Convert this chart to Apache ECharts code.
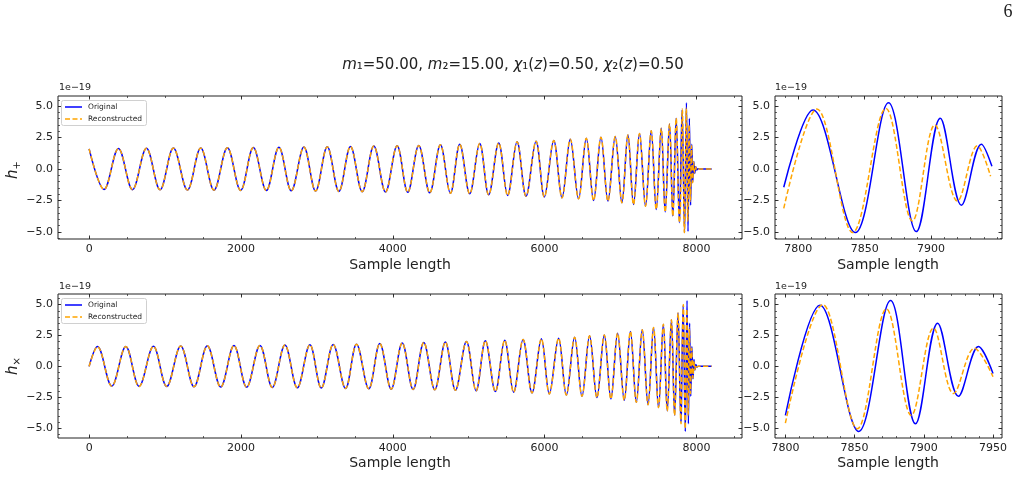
<!DOCTYPE html>
<html>
<head>
<meta charset="utf-8">
<script src="https://cdn.jsdelivr.net/npm/echarts@6/dist/echarts.min.js"></script>
<style>
  html, body { margin: 0; background: #fff; }
  #chart { width: 1021px; height: 478px; }
</style>
</head>
<body>
<div id="chart"></div>
<script>
// values are in units of 1e-19 (extrema of each cycle)
const hpInspiral = [[0,1.6],[197,-1.62],[386,1.63],[571,-1.64],[755,1.65],[934,-1.65],[1110,1.66],[1295,-1.67],[1470,1.67],[1645,-1.68],[1821,1.69],[1996,-1.7],[2163,1.7],[2334,-1.71],[2500,1.72],[2663,-1.73],[2829,1.74],[2983,-1.75],[3137,1.76],[3290,-1.78],[3443,1.79],[3597,-1.8],[3750,1.82],[3904,-1.82],[4057,1.84],[4197,-1.85],[4342,1.87],[4487,-1.89],[4627,1.92],[4759,-1.93],[4882,1.97],[5013,-1.97],[5145,2.03],[5263,-2.05],[5395,2.06],[5513,-2.1],[5637,2.16],[5755,-2.16],[5887,2.21],[5996,-2.22],[6120,2.26],[6229,-2.29],[6338,2.37],[6447,-2.37],[6549,2.45],[6645,-2.5],[6742,2.53],[6834,-2.55],[6930,2.58],[7018,-2.68],[7097,2.71],[7171,-2.82],[7250,2.82],[7329,-2.95],[7404,3.03],[7470,-3.21],[7536,3.24],[7588,-3.42],[7645,3.58],[7689,-3.74],[7733,4.03],[7776,-4.26]];
const hpZoomOrig = [[7789,-1.45],[7811,4.68],[7843,-5.05],[7868,5.26],[7889,-4.97],[7907,4.03],[7923,-2.87],[7938,1.97],[7946,0.21]];
const hpZoomRecon = [[7789,-3.13],[7814,4.76],[7841,-5.05],[7866,4.82],[7886,-4.13],[7903,3.5],[7920,-2.55],[7935,1.84],[7945,-0.58]];
const hpTailOrig = [[7952,-1.0],[7965,0.6],[7978,-0.35],[7991,0.18],[8004,-0.08],[8020,0.02],[8045,0],[8200,0]];
const hpTailRecon = [[7950,-1.1],[7963,0.55],[7976,-0.3],[7989,0.15],[8003,-0.06],[8020,0.01],[8045,0],[8200,0]];

const hcInspiral = [[0,0],[110,1.6],[298,-1.6],[483,1.6],[658,-1.62],[847,1.62],[1022,-1.63],[1206,1.64],[1382,-1.65],[1557,1.66],[1733,-1.67],[1908,1.68],[2075,-1.69],[2250,1.7],[2413,-1.71],[2579,1.73],[2742,-1.74],[2908,1.75],[3058,-1.76],[3215,1.78],[3378,-1.79],[3522,1.8],[3684,-1.82],[3829,1.86],[3979,-1.85],[4124,1.9],[4268,-1.87],[4408,1.94],[4553,-1.9],[4693,1.97],[4825,-1.93],[4970,2.02],[5097,-1.98],[5220,2.07],[5351,-2.04],[5474,2.12],[5592,-2.09],[5716,2.17],[5834,-2.15],[5957,2.23],[6062,-2.23],[6184,2.28],[6286,-2.31],[6395,2.36],[6492,-2.42],[6592,2.47],[6689,-2.53],[6786,2.55],[6873,-2.64],[6961,2.69],[7049,-2.74],[7130,2.83],[7208,-2.91],[7286,2.96],[7362,-3.1],[7435,3.15],[7500,-3.34],[7564,3.42],[7615,-3.61],[7670,3.78],[7712,-3.97],[7757,4.32]];
const hcBridgeOrig = [[7795,-4.5]];
const hcBridgeRecon = [[7797,-4.65]];
const hcZoomOrig = [[7800,-3.97],[7825,4.95],[7853,-5.27],[7876,5.33],[7894,-4.65],[7910,3.5],[7925,-2.42],[7939.5,1.6],[7950,-0.57]];
const hcZoomRecon = [[7800,-4.6],[7827,5.0],[7852,-5.05],[7873,4.65],[7891,-3.97],[7907,3.1],[7921.5,-2.2],[7936.6,1.47],[7950,-0.84]];
const hcTailOrig = [[7955,-1.0],[7967,0.55],[7980,-0.3],[7993,0.15],[8006,-0.06],[8022,0.01],[8045,0],[8200,0]];
const hcTailRecon = [[7953,-0.95],[7965,0.5],[7978,-0.28],[7991,0.13],[8005,-0.05],[8022,0],[8045,0],[8200,0]];

const fullTicks = [0, 2000, 4000, 6000, 8000];
const fullMinor = [0,500,1000,1500,2000,2500,3000,3500,4000,4500,5000,5500,6000,6500,7000,7500,8000,8500];
const zoomTopTicks = [7800, 7850, 7900];
const zoomBotTicks = [7800, 7850, 7900, 7950];
const zoomMinor = [7790,7800,7810,7820,7830,7840,7850,7860,7870,7880,7890,7900,7910,7920,7930,7940,7950];
const yTicks = [-5, -2.5, 0, 2.5, 5];
const yMinor = [-5.5,-5,-4.5,-4,-3.5,-3,-2.5,-2,-1.5,-1,-0.5,0,0.5,1,1.5,2,2.5,3,3.5,4,4.5,5,5.5];
const legendNames = ["Original", "Reconstructed"];

const FONT = "DejaVu Sans";
const INK = "#222";
const BLUE = "#0000ff";
const ORANGE = "#ffa500";

const grids = [
  { left: 58, top: 96, width: 684, height: 143 },
  { left: 775, top: 96, width: 227, height: 143 },
  { left: 58, top: 294, width: 684, height: 144 },
  { left: 775, top: 294, width: 227, height: 144 },
].map(g => Object.assign({ show: true, borderColor: INK, borderWidth: 1, backgroundColor: "transparent" }, g));

const xAxes = [];
const yAxes = [];

const fmtY = v => (v < 0 ? "\u2212" : "") + Math.abs(v).toFixed(1);

// one labelled axis plus tick-only copies (minor ticks, opposite side)
function addAxes(list, gi, range, major, minor, sides, fmt) {
  const first = list.length;
  sides.forEach((pos, k) => {
    [major, minor].forEach((vals, m) => {
      const labelled = k === 0 && m === 0;
      list.push({
        type: "value", gridIndex: gi, position: pos, min: range[0], max: range[1],
        axisLine: { show: false, onZero: false }, splitLine: { show: false },
        axisTick: { show: true, inside: true, length: m === 0 ? 3.5 : 2, customValues: vals, lineStyle: { color: INK, width: m === 0 ? 0.9 : 0.7 } },
        axisLabel: labelled
          ? { show: true, customValues: major, margin: 5, fontSize: 11, color: INK, fontFamily: FONT, formatter: fmt }
          : { show: false },
      });
    });
  });
  return first;
}

const panels = [
  { x: [-410, 8600], xt: fullTicks, xm: fullMinor, y: [-5.56, 5.80] },
  { x: [7782.4, 7953.6], xt: zoomTopTicks, xm: zoomMinor, y: [-5.56, 5.80] },
  { x: [-410, 8600], xt: fullTicks, xm: fullMinor, y: [-5.80, 5.86] },
  { x: [7792.5, 7956.5], xt: zoomBotTicks, xm: zoomMinor, y: [-5.80, 5.86] },
];
const axisIdx = panels.map((p, gi) => ({
  x: addAxes(xAxes, gi, p.x, p.xt, p.xm, ["bottom", "top"], v => String(v)),
  y: addAxes(yAxes, gi, p.y, yTicks, yMinor, ["left", "right"], fmtY),
}));

function line(name, gi, data) {
  const dashed = name === legendNames[1];
  const c = dashed ? ORANGE : BLUE;
  return {
    name, type: "line", data, smooth: 0.36, symbol: "none", showSymbol: false,
    xAxisIndex: axisIdx[gi].x, yAxisIndex: axisIdx[gi].y,
    lineStyle: { color: c, width: 1.5, type: dashed ? [5, 2.5] : "solid" },
    itemStyle: { color: c }, z: dashed ? 3 : 2, animation: false,
  };
}

const series = [
  line("Original", 0, hpInspiral.concat(hpZoomOrig, hpTailOrig)),
  line("Reconstructed", 0, hpInspiral.concat(hpZoomRecon, hpTailRecon)),
  line("Original", 1, hpZoomOrig),
  line("Reconstructed", 1, hpZoomRecon),
  line("Original", 2, hcInspiral.concat(hcBridgeOrig, hcZoomOrig, hcTailOrig)),
  line("Reconstructed", 2, hcInspiral.concat(hcBridgeRecon, hcZoomRecon, hcTailRecon)),
  line("Original", 3, hcZoomOrig),
  line("Reconstructed", 3, hcZoomRecon),
];

const txt = (x, y, text, extra) => ({
  type: "text", x, y, silent: true, z: 10,
  style: Object.assign({ text, fill: INK, font: "14px " + FONT, align: "center", verticalAlign: "middle" }, extra),
});
const yLabel = (y, sub) => ({
  type: "text", x: 13, y, rotation: Math.PI / 2, silent: true,
  style: {
    text: "{h|h}{s|" + sub + "}", align: "center", verticalAlign: "middle", fill: INK,
    rich: {
      h: { fontSize: 15, fontStyle: "italic", fontFamily: FONT, lineHeight: 18, fill: INK },
      s: { fontSize: 10, fontFamily: FONT, lineHeight: 8, verticalAlign: "bottom", fill: INK },
    },
  },
});

// legend box in the upper-left corner of a main panel
function legendBox(top) {
  return [
    { type: "rect", z: 20, shape: { x: 61.5, y: top + 0.5, width: 85, height: 25, r: 2 },
      style: { fill: "#fff", stroke: "#d0d0d0", lineWidth: 1 } },
    { type: "line", z: 21, shape: { x1: 65, y1: top + 7, x2: 82, y2: top + 7 },
      style: { stroke: BLUE, lineWidth: 1.5 } },
    { type: "line", z: 21, shape: { x1: 65, y1: top + 19, x2: 82, y2: top + 19 },
      style: { stroke: ORANGE, lineWidth: 1.5, lineDash: [5, 2.5] } },
    txt(88, top + 7, legendNames[0], { font: "7.5px " + FONT, align: "left" }),
    txt(88, top + 19, legendNames[1], { font: "7.5px " + FONT, align: "left" }),
  ].map(e => Object.assign(e, { z: 20 + (e.type === "rect" ? 0 : 1) }));
}

const graphic = [
  txt(513, 65, "{i|m}\u2081=50.00, {i|m}\u2082=15.00, {i|\u03c7}\u2081({i|z})=0.50, {i|\u03c7}\u2082({i|z})=0.50", {
    font: "15px " + FONT, rich: { i: { fontStyle: "italic", fontSize: 15, fontFamily: FONT, fill: INK } },
  }),
  txt(1008, 12, "6", { font: "18px 'Liberation Serif'" }),
  txt(400, 265, "Sample length"),
  txt(888, 265, "Sample length"),
  txt(400, 463, "Sample length"),
  txt(888, 463, "Sample length"),
  txt(59, 88, "1e\u221219", { font: "9.5px " + FONT, align: "left" }),
  txt(775, 88, "1e\u221219", { font: "9.5px " + FONT, align: "left" }),
  txt(59, 287, "1e\u221219", { font: "9.5px " + FONT, align: "left" }),
  txt(775, 287, "1e\u221219", { font: "9.5px " + FONT, align: "left" }),
  yLabel(170, "+"),
  yLabel(366, "\u00d7"),
].concat(legendBox(100), legendBox(298));

const chart = echarts.init(document.getElementById("chart"), null, { renderer: "canvas" });
chart.setOption({
  animation: false,
  backgroundColor: "#fff",
  grid: grids,
  xAxis: xAxes,
  yAxis: yAxes,
  graphic,
  series,
});
</script>
</body>
</html>
